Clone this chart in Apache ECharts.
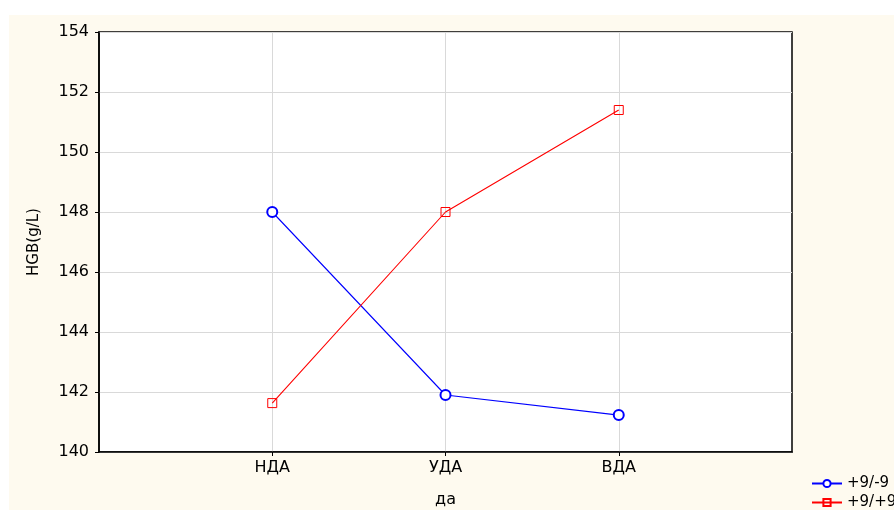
<!DOCTYPE html>
<html>
<head>
<meta charset="utf-8">
<script src="https://cdn.jsdelivr.net/npm/echarts@6/dist/echarts.min.js"></script>
<style>
html,body{margin:0;padding:0;background:#fff;}
#c{width:894px;height:511px;}
</style>
</head>
<body>
<div id="c"></div>
<script>
var categories = ['НДА', 'УДА', 'ВДА'];
var seriesNames = ['+9/-9', '+9/+9'];
var blueValues = [148.0, 141.9, 141.23];
var redValues = [141.63, 148.0, 151.4];
var yTicks = [140, 142, 144, 146, 148, 150, 152, 154];

function toPoints(vals) {
  return vals.map(function (v, i) { return [i + 1, v]; });
}

var chart = echarts.init(document.getElementById('c'));
var font = 'DejaVu Sans, sans-serif';
function legendFor(name, top) {
  return {
    orient: 'vertical', left: 806, top: top,
    itemWidth: 30, itemHeight: 9, itemGap: 0,
    textStyle: { fontFamily: font, fontSize: 15, color: '#000' },
    data: [name]
  };
}
chart.setOption({
  backgroundColor: '#ffffff',
  animation: false,
  graphic: [{
    type: 'rect', z: -10, silent: true,
    shape: { x: 9, y: 15, width: 885, height: 495 },
    style: { fill: '#fefaef' }
  }],
  grid: {
    left: 99, top: 32, right: 102, bottom: 59,
    outerBoundsMode: 'none', containLabel: false,
    show: true, backgroundColor: '#ffffff', borderColor: '#000000', borderWidth: 1.5
  },
  legend: [legendFor(seriesNames[0], 471), legendFor(seriesNames[1], 490)],
  xAxis: {
    type: 'value', min: 0, max: 4, interval: 1,
    name: 'да', nameLocation: 'middle', nameGap: 40,
    nameTextStyle: { fontFamily: font, fontSize: 16, color: '#000' },
    axisLine: { show: true, lineStyle: { color: '#000', width: 1.5 } },
    axisTick: { show: true, length: 4, lineStyle: { color: '#000' },
      customValues: [1, 2, 3] },
    axisLabel: {
      fontFamily: font, fontSize: 16, color: '#000', margin: 8,
      customValues: [1, 2, 3],
      formatter: function (v) { return categories[v - 1] || ''; }
    },
    splitLine: { show: true, lineStyle: { color: '#d9d9d9', width: 1 } }
  },
  yAxis: {
    type: 'value', min: yTicks[0], max: yTicks[yTicks.length - 1], interval: 2,
    name: 'HGB(g/L)', nameLocation: 'middle', nameGap: 57, nameRotate: 90,
    nameTextStyle: { fontFamily: font, fontSize: 15, color: '#000' },
    axisLine: { show: true, lineStyle: { color: '#000', width: 1.5 } },
    axisTick: { show: true, length: 4, lineStyle: { color: '#000' } },
    axisLabel: { fontFamily: font, fontSize: 16, color: '#000', margin: 10 },
    splitLine: { show: true, lineStyle: { color: '#d9d9d9', width: 1 } }
  },
  series: [
    {
      name: seriesNames[0], type: 'line', data: toPoints(blueValues),
      symbol: 'emptyCircle', symbolSize: 10,
      lineStyle: { color: '#0000ff', width: 1.1 },
      itemStyle: { color: '#0000ff', borderColor: '#0000ff', borderWidth: 1 }
    },
    {
      name: seriesNames[1], type: 'line', data: toPoints(redValues),
      symbol: 'rect', symbolSize: 9,
      lineStyle: { color: '#ff0000', width: 1.1 },
      itemStyle: { color: 'transparent', borderColor: '#ff0000', borderWidth: 1 }
    }
  ]
});
</script>
</body>
</html>
